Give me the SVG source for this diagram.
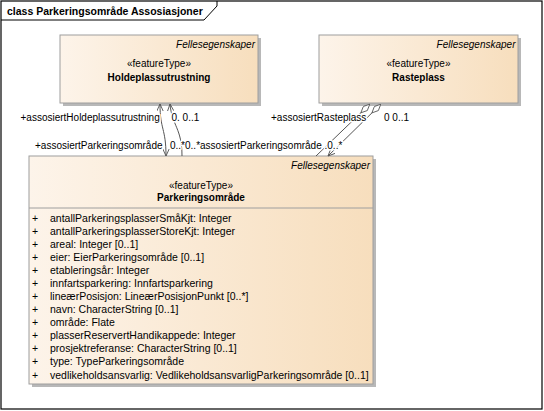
<svg xmlns="http://www.w3.org/2000/svg" width="544" height="411" viewBox="0 0 544 411">
<defs>
<linearGradient id="fill" x1="0" y1="0" x2="1" y2="0">
<stop offset="0" stop-color="#FDF4EA"/>
<stop offset="1" stop-color="#F7DEBD"/>
</linearGradient>
<marker id="arr" viewBox="0 0 10 10" refX="10" refY="5" markerWidth="7" markerHeight="7" markerUnits="userSpaceOnUse" orient="auto-start-reverse">
<path d="M0,0.5 L10,5 L0,9.5" fill="none" stroke="#555" stroke-width="1.3"/>
</marker>
<marker id="dia" viewBox="0 0 20 10" refX="0" refY="5" markerWidth="13" markerHeight="6.5" markerUnits="userSpaceOnUse" orient="auto">
<path d="M0.5,5 L10,0.6 L19.5,5 L10,9.4 Z" fill="#fff" stroke="#555" stroke-width="1.3"/>
</marker>
</defs>
<style>
text{font-family:"Liberation Sans",Arial,sans-serif;font-size:10px;fill:#000}
.b{font-weight:bold}
.i{font-style:italic}
.m{text-anchor:middle}
.e{text-anchor:end}
.a text{font-size:10.5px}
.box{fill:url(#fill);stroke:#9E9E9E;stroke-width:1}
.sh{fill:#B8B8B8}
.con{fill:none;stroke:#555;stroke-width:1}
.lbl{stroke:#fff;stroke-width:3;paint-order:stroke;stroke-linejoin:round}
</style>
<rect x="0" y="0" width="544" height="411" fill="#fff"/>
<g id="frame">
<rect x="1" y="1" width="541" height="408" fill="none" stroke="#000" stroke-width="1.2"/>
<path d="M1,20 L204,20 L217,6 L217,1" fill="none" stroke="#000" stroke-width="1"/>
<text x="7" y="15" class="b" style="font-size:10.5px">class Parkeringsområde Assosiasjoner</text>
</g>
<g id="Holdeplassutrustning">
<rect x="63" y="38" width="198" height="68" class="sh"/>
<rect x="60" y="35" width="198" height="68" class="box"/>
<text x="255" y="48" class="i e">Fellesegenskaper</text>
<text x="159" y="67" class="m">«featureType»</text>
<text x="159" y="80.5" class="b m">Holdeplassutrustning</text>
</g>
<g id="Rasteplass">
<rect x="322" y="38" width="199" height="68" class="sh"/>
<rect x="319" y="35" width="199" height="68" class="box"/>
<text x="515.5" y="48" class="i e">Fellesegenskaper</text>
<text x="418.5" y="67" class="m">«featureType»</text>
<text x="418.5" y="80.5" class="b m">Rasteplass</text>
</g>
<g id="Parkeringsomraade">
<rect x="32" y="159" width="344" height="228" class="sh"/>
<rect x="29" y="156" width="344" height="228" class="box"/>
<line x1="29" y1="208" x2="373" y2="208" stroke="#9E9E9E"/>
<text x="370" y="169" class="i e">Fellesegenskaper</text>
<text x="201" y="188.5" class="m">«featureType»</text>
<text x="201" y="200.5" class="b m">Parkeringsområde</text>
<g class="a">
<text x="32" y="221.5">+</text><text x="50" y="221.5">antallParkeringsplasserSmåKjt: Integer</text>
<text x="32" y="234.6">+</text><text x="50" y="234.6">antallParkeringsplasserStoreKjt: Integer</text>
<text x="32" y="247.7">+</text><text x="50" y="247.7">areal: Integer [0..1]</text>
<text x="32" y="260.7">+</text><text x="50" y="260.7">eier: EierParkeringsområde [0..1]</text>
<text x="32" y="273.8">+</text><text x="50" y="273.8">etableringsår: Integer</text>
<text x="32" y="286.9">+</text><text x="50" y="286.9">innfartsparkering: Innfartsparkering</text>
<text x="32" y="300">+</text><text x="50" y="300">lineærPosisjon: LineærPosisjonPunkt [0..*]</text>
<text x="32" y="313.1">+</text><text x="50" y="313.1">navn: CharacterString [0..1]</text>
<text x="32" y="326.1">+</text><text x="50" y="326.1">område: Flate</text>
<text x="32" y="339.2">+</text><text x="50" y="339.2">plasserReservertHandikappede: Integer</text>
<text x="32" y="352.3">+</text><text x="50" y="352.3">prosjektreferanse: CharacterString [0..1]</text>
<text x="32" y="365.4">+</text><text x="50" y="365.4">type: TypeParkeringsområde</text>
<text x="32" y="378.5">+</text><text x="50" y="378.5">vedlikeholdsansvarlig: VedlikeholdsansvarligParkeringsområde [0..1]</text>
</g>
</g>
<g id="connectors">
<path class="con" d="M160,104 C160,130 166,128 166,156" marker-start="url(#arr)" marker-end="url(#arr)"/>
<path class="con" d="M170,104 C172,126 182,128 182,156" marker-start="url(#arr)"/>
<path class="con" d="M370,104 L316,156" marker-start="url(#dia)"/>
<path class="con" d="M381,104 L328,156" marker-start="url(#dia)" marker-end="url(#arr)"/>
<text x="20.5" y="121.4" class="lbl">+assosiertHoldeplassutrustning</text>
<text x="171.5" y="121.4" class="lbl">0. 0..1</text>
<text x="35" y="148.7" class="lbl">+assosiertParkeringsområde</text>
<text x="170" y="148.7" class="lbl">0..*0..*assosiertParkeringsområde .0..*</text>
<text x="271" y="121.4" class="lbl">+assosiertRasteplass</text>
<text x="384" y="121.4" class="lbl">0 0..1</text>
</g>
</svg>
